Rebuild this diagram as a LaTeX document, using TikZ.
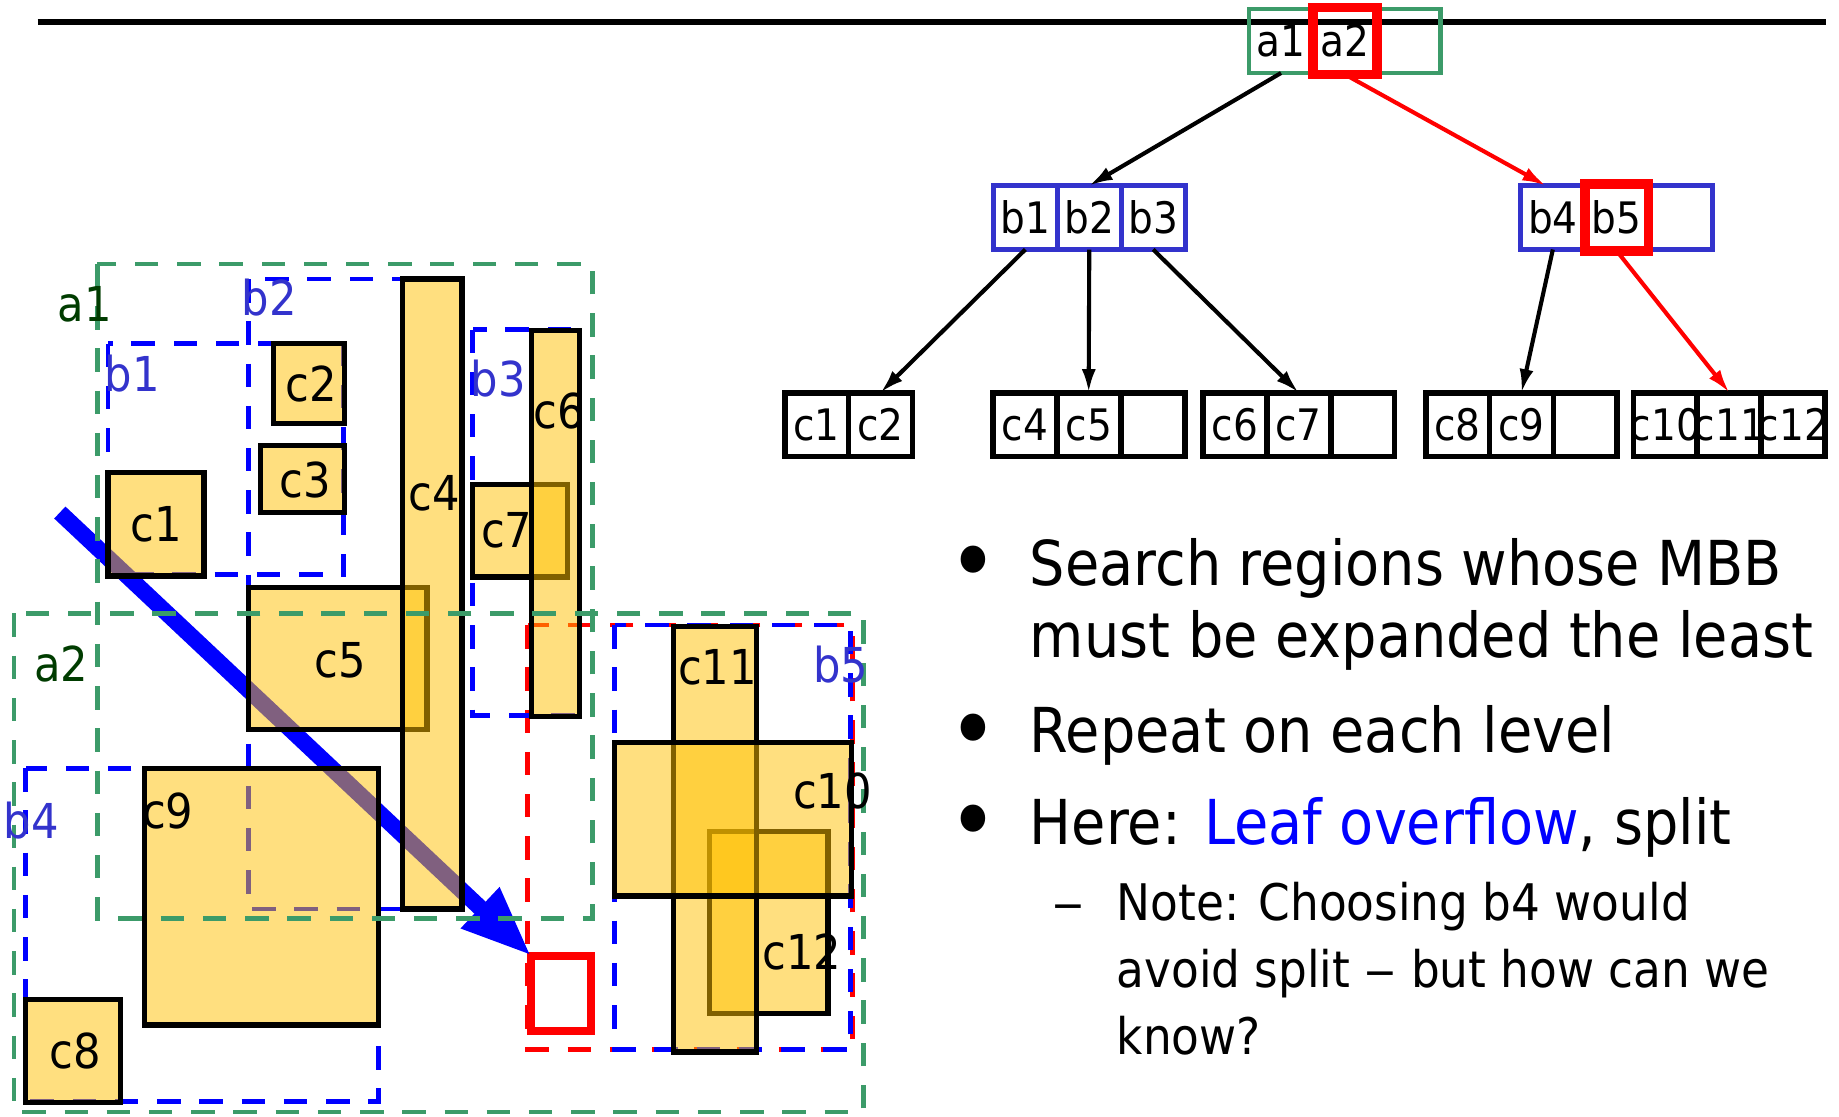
\documentclass[tikz,border=0pt]{standalone}
\usepackage{fontspec}
\setmainfont{DejaVu Sans Condensed}
\usepackage{xcolor}
\usepackage{tikz}
\usetikzlibrary{arrows.meta, positioning}

\definecolor{mbbgreen}{RGB}{60,155,105}
\definecolor{labgreen}{RGB}{0,60,0}
\definecolor{nodeblue}{RGB}{51,51,204}
\definecolor{objfill}{RGB}{255,192,0}

\newcommand{\cellfont}{\fontsize{37pt}{44pt}\selectfont}
\newcommand{\lblfont}{\fontsize{41pt}{49pt}\selectfont}
\newcommand{\itemfont}{\fontsize{52.8pt}{62pt}\selectfont}
\newcommand{\subitemfont}{\fontsize{43pt}{57.5pt}\selectfont}
\newcommand{\dotfont}{\fontsize{80pt}{80pt}\selectfont}
\newcommand{\longdash}{\scalebox{1.4}[1]{–}}

\begin{document}
\begin{tikzpicture}[
      x=1pt, y=-1pt,
      cell/.style={draw, line width=4.3pt, minimum width=54.5pt, minimum height=54.5pt,
        inner sep=0pt, outer sep=0pt, font=\cellfont},
      rootcell/.style={cell, draw=mbbgreen, line width=4pt},
      dircell/.style={cell, draw=nodeblue},
      leafcell/.style={cell, draw=black, line width=5pt},
      hot/.style={cell, draw=red, line width=8pt, minimum height=57pt},
      tarrow/.style={-{Latex[length=20pt,width=12pt]}, line width=3.5pt},
      mbb/.style={dash pattern=on 20pt off 16pt, line width=4pt},
      obj/.style={fill=objfill, fill opacity=0.5, draw=black, line width=4.5pt},
      lbl/.style={anchor=base west, inner sep=0pt, font=\lblfont},
      item/.style={anchor=base west, inner sep=0pt, align=left},
      dot/.style={anchor=base, inner sep=0pt, font=\dotfont}
    ]
      \useasboundingbox (0,0) rectangle (1568,952);
      \draw[line width=5pt] (32,18.5) -- (1557,18.5);

      % R-tree: root, directory level, leaves
      \node[rootcell] (a1) at (1092.25,35) {a1};
      \node[rootcell, right=0pt of a1] (a2) {a2};
      \node[rootcell, right=0pt of a2] (a3) {};
      \node[hot] (a2hot) at (a2) {};

      \node[dircell] (b1) at (874.25,185.5) {b1};
      \node[dircell, right=0pt of b1] (b2) {b2};
      \node[dircell, right=0pt of b2] (b3) {b3};
      \node[dircell] (b4) at (1324,185.5) {b4};
      \node[dircell, right=0pt of b4] (b5) {b5};
      \node[dircell, right=0pt of b5] (b6) {};
      \node[hot] (b5hot) at (b5) {};

      \node[leafcell] (c1) at (696.25,362) {c1};
      \node[leafcell, right=0pt of c1] (c2) {c2};
      \node[leafcell] (c4) at (873.75,362) {c4};
      \node[leafcell, right=0pt of c4] (c5) {c5};
      \node[leafcell, right=0pt of c5] (e1) {};
      \node[leafcell] (c6) at (1052.75,362) {c6};
      \node[leafcell, right=0pt of c6] (c7) {c7};
      \node[leafcell, right=0pt of c7] (e2) {};
      \node[leafcell] (c8) at (1242.75,362) {c8};
      \node[leafcell, right=0pt of c8] (c9) {c9};
      \node[leafcell, right=0pt of c9] (e3) {};
      % three-digit names spill over the cell edges
      \node[leafcell] (c10) at (1420,362) {\makebox[0pt]{c10}};
      \node[leafcell, right=0pt of c10] (c11) {\makebox[0pt]{c11}};
      \node[leafcell, right=0pt of c11] (c12) {\makebox[0pt]{c12}};

      \draw[tarrow] (a1.south) -- (b2.north);
      \draw[tarrow, red] (a2hot.south) -- ([xshift=-6pt]b4.north);
      \draw[tarrow] (b1.south) -- (c2.north);
      \draw[tarrow] (b2.south) -- (c5.north);
      \draw[tarrow] (b3.south) -- (c7.north);
      \draw[tarrow] (b4.south) -- (c9.north);
      \draw[tarrow, red] (b5hot.south) -- (c11.north);

      % space: enlarged b5, directory boxes, insertion
      \draw[mbb, red] (450,533) rectangle (727,895);
      \draw[mbb, blue] (92,293) rectangle (293,490);
      \draw[mbb, blue] (212,238) rectangle (394,775);
      \draw[mbb, blue] (403,281) rectangle (494,610);
      \draw[mbb, blue] (22,655) rectangle (323,939);
      \draw[mbb, blue] (524,533) rectangle (725,895);

      \node[draw=red, line width=6.5pt, minimum width=51pt, minimum height=64pt,
        inner sep=0pt, outer sep=0pt] (new) at (478.5,847) {};
      \coordinate (start) at (51,437);
      \draw[blue, line width=14pt, -{Triangle[length=60pt,width=44pt]}] (start) -- (new.north west);

      % data objects
      \filldraw[obj] (92,403) rectangle (174,491);
      \filldraw[obj] (233,293) rectangle (294,361);
      \filldraw[obj] (222,380) rectangle (294,437);
      \filldraw[obj] (212,501) rectangle (364,622);
      \filldraw[obj] (343,238) rectangle (394,775);
      \filldraw[obj] (403,413) rectangle (484,492);
      \filldraw[obj] (453,282) rectangle (494,611);
      \filldraw[obj] (123,655) rectangle (323,874);
      \filldraw[obj] (22,852) rectangle (103,940);
      \filldraw[obj] (605,709) rectangle (706,864);
      \filldraw[obj] (574,534) rectangle (645,897);
      \filldraw[obj] (524,633) rectangle (726,764);

      \draw[mbb, mbbgreen] (83,225) rectangle (505,783);
      \draw[mbb, mbbgreen] (12,523) rectangle (736,948);

      \node[lbl, text=labgreen] (la1) at (49,274) {a1};
      \node[lbl, text=labgreen] (la2) at (29,581) {a2};
      \node[lbl, text=nodeblue] (lb1) at (89,334) {b1};
      \node[lbl, text=nodeblue] (lb2) at (206,269) {b2};
      \node[lbl, text=nodeblue] (lb3) at (401,338) {b3};
      \node[lbl, text=nodeblue] (lb4) at (3,715) {b4};
      \node[lbl, text=nodeblue] (lb5) at (693,582) {b5};
      \node[lbl] (lc1) at (111,462) {c1};
      \node[lbl] (lc2) at (243,342.5) {c2};
      \node[lbl] (lc3) at (238,424) {c3};
      \node[lbl] (lc4) at (348,435) {c4};
      \node[lbl] (lc5) at (268,578) {c5};
      \node[lbl] (lc6) at (455,365) {c6};
      \node[lbl] (lc7) at (410,467) {c7};
      \node[lbl] (lc8) at (42,911) {c8};
      \node[lbl] (lc9) at (121,706) {c9};
      \node[lbl] (lc10) at (676,689) {c10};
      \node[lbl] (lc11) at (578,584) {c11};
      \node[lbl] (lc12) at (650,827) {c12};

      % bullet list (base anchor sits on the last line)
      \node[dot] (d1) at (830,507) {•};
      \node[item, font=\itemfont] (t1) at (878,561) {Search regions whose MBB\\must be expanded the least};
      \node[dot] (d2) at (830,650) {•};
      \node[item, font=\itemfont] (t2) at (878,642) {Repeat on each level};
      \node[dot] (d3) at (830,728) {•};
      \node[item, font=\itemfont] (t3) at (878,720) {Here: \textcolor{blue}{Leaf overflow}, split};
      \node[item, font=\subitemfont] (d4) at (897,784.5) {\longdash};
      \node[item, font=\subitemfont] (t4) at (952,899.5) {Note: Choosing b4 would\\avoid split \longdash{} but how can we\\know?};
    \end{tikzpicture}
\end{document}
